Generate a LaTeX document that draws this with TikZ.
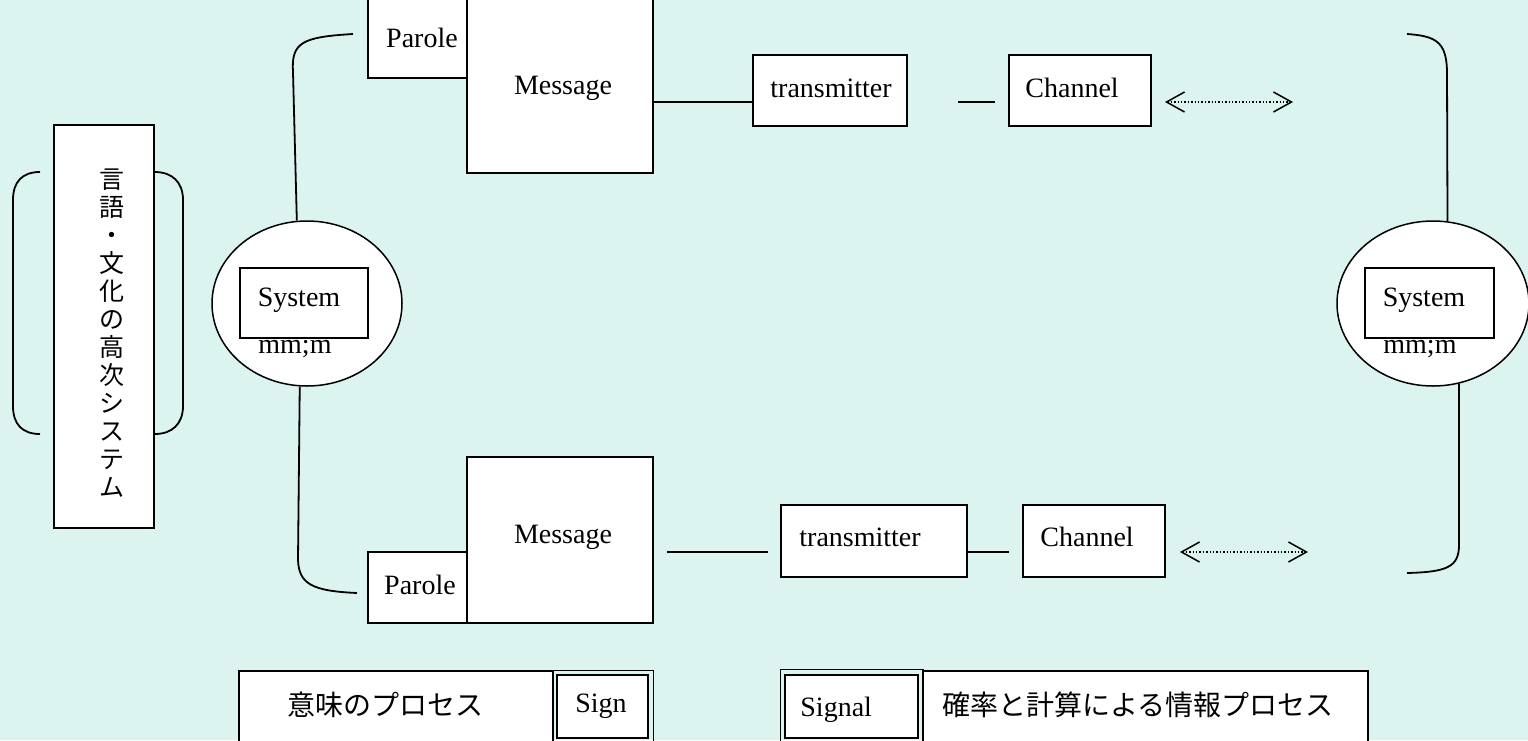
\documentclass[tikz,border=0pt]{standalone}
\usepackage{fontspec}
\setmainfont{Liberation Serif}
\newfontfamily\jp{Noto Sans CJK JP}
\usetikzlibrary{arrows.meta,shapes.geometric,fit}
\definecolor{bg}{RGB}{219,244,240}
\begin{document}
\begin{tikzpicture}[x=0.5pt,y=-0.5pt,
  every node/.style={font=\fontsize{14}{16}\selectfont},
  box/.style={draw, fill=white, line width=0.75pt, rectangle, inner sep=0pt},
  oval/.style={draw, fill=white, line width=0.75pt, ellipse, inner sep=0pt, minimum height=82.5pt},
  txt/.style={inner sep=0pt, anchor=west},
  ctr/.style={inner sep=0pt},
  conn/.style={line width=0.75pt},
  curl/.style={line width=0.9pt},
  dbl/.style={densely dotted, line width=0.7pt, {Straight Barb[length=9pt,width=10pt,line width=0.75pt]}-{Straight Barb[length=9pt,width=10pt,line width=0.75pt]}},
  thinbox/.style={draw, line width=0.5pt},
  thickbox/.style={draw, fill=white, line width=1.2pt, rectangle, inner sep=0pt}
]
\path[use as bounding box, fill=bg] (0,0) rectangle (1528,740);
\clip (0,0) rectangle (1528,740);

% left vertical box with brackets
\node[box, fit={(54,125) (154,528)}] (vbox) {};
\node[inner sep=0pt, align=center, font=\jp\fontsize{12.5}{14}\selectfont] (vtext) at (112,333)
  {言\\語\\・\\文\\化\\の\\高\\次\\シ\\ス\\テ\\ム};
\draw[curl] (40,172) .. controls (22,172) and (13,182) .. (13,200) -- (13,406) .. controls (13,424) and (22,434) .. (40,434);
\draw[curl] (vbox.east |- 0,172) .. controls (172,172) and (183,182) .. (183,200) -- (183,406) .. controls (183,424) and (172,434) .. (vbox.east |- 0,434);

% left system
\node[oval, minimum width=95pt] (lsys) at (307,303.5) {};
\node[box, fit={(240,268) (368,338)}] (lsysbox) {};
\node[ctr] (lsyst) at (299,300) {System};
\node[txt] (lmm) at (258,349) {mm;m};

% right system
\node[oval, minimum width=96pt] (rsys) at (1433,303.5) {};
\node[box, fit={(1365,268) (1494,338)}] (rsysbox) {};
\node[ctr] (rsyst) at (1424,300) {System};
\node[txt] (rmm) at (1383,349) {mm;m};

% top row
\node[box, fit={(368,-4) (467,78)}] (par1) {};
\node[ctr] (par1t) at (422,38) {Parole};
\node[box, fit={(467,-4) (653,173)}] (msg1) {};
\node[ctr] (msg1t) at (563,88) {Message};
\node[box, fit={(753,55) (907,126)}] (tr1) {};
\node[txt] (tr1t) at (770,88) {transmitter};
\node[box, fit={(1009,55) (1151,126)}] (ch1) {};
\node[txt] (ch1t) at (1025,88) {Channel};
\coordinate (y1) at (0,102);
\draw[conn] (msg1.east |- y1) -- (tr1.west |- y1);
\coordinate (d1a) at (958,102);
\coordinate (d1b) at (995,102);
\draw[conn] (d1a) -- (d1b);
\coordinate (a1a) at (1165,102);
\coordinate (a1b) at (1293,102);
\draw[dbl] (a1a) -- (a1b);

% bottom row
\node[box, fit={(467,457) (653,623)}] (msg2) {};
\node[ctr] (msg2t) at (563,537) {Message};
\node[box, fit={(368,552) (467,623)}] (par2) {};
\node[ctr] (par2t) at (420,585) {Parole};
\node[box, fit={(781,505) (967,577)}] (tr2) {};
\node[txt] (tr2t) at (799,537) {transmitter};
\node[box, fit={(1023,505) (1165,577)}] (ch2) {};
\node[txt] (ch2t) at (1040,537) {Channel};
\coordinate (y2) at (0,552);
\coordinate (l2a) at (667,552);
\coordinate (l2b) at (768,552);
\draw[conn] (l2a) -- (l2b);
\coordinate (l3b) at (1009,552);
\draw[conn] (tr2.east |- y2) -- (l3b);
\coordinate (a2a) at (1180,552);
\coordinate (a2b) at (1308,552);
\draw[dbl] (a2a) -- (a2b);

% connectors (curly)
\coordinate (e1) at (353,34);
\coordinate (e2) at (357,593);
\coordinate (e3) at (1407,34);
\coordinate (e4) at (1407,573);
\draw[curl] (lsys.97) -- (293,72) .. controls (291,42) and (303,37) .. (e1);
\draw[curl] (lsys.265) -- (298,560) .. controls (299,584) and (312,591) .. (e2);
\draw[curl] (rsys.80) -- (1447,70) .. controls (1446,42) and (1436,36) .. (e3);
\draw[curl] (rsys.288) -- (1459,545) .. controls (1459,567) and (1447,572) .. (e4);

% legend
\node[box, fit={(239,671) (553,760)}] (leg1) {};
\node[ctr, font=\jp\fontsize{14}{16}\selectfont] (leg1t) at (385,705) {意味のプロセス};
\draw[thinbox] (552,670) rectangle (653,760);
\node[thickbox, fit={(557,675) (648,738)}] (sign) {};
\node[ctr] (signt) at (601,706) {Sign};

\node[box, fit={(923,671) (1368,760)}] (leg2) {};
\node[txt, font=\jp\fontsize{14}{16}\selectfont] (leg2t) at (942,705) {確率と計算による情報プロセス};
\draw[thinbox] (780,669) rectangle (923,760);
\node[thickbox, fit={(785,675) (918,738)}] (signal) {};
\node[txt] (signalt) at (800,710) {Signal};
\end{tikzpicture}
\end{document}
